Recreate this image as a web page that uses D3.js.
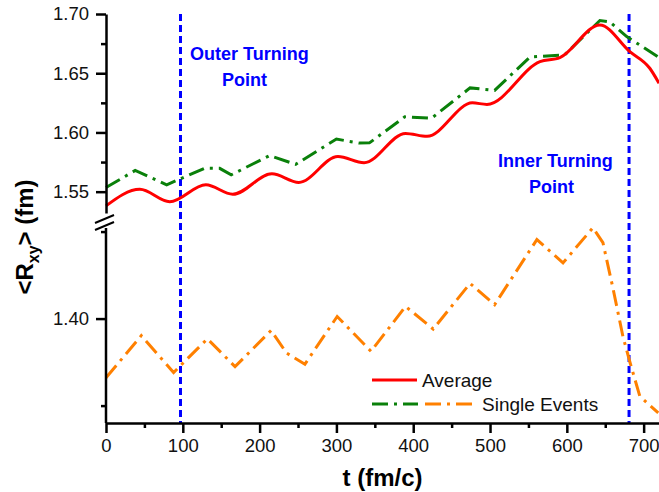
<!DOCTYPE html>
<html>
<head>
<meta charset="utf-8">
<script src="https://cdn.jsdelivr.net/npm/d3@7"></script>
<style>
  body { margin: 0; background: #fff; }
  svg { display: block; font-family: "Liberation Sans", Arial, sans-serif; }
</style>
</head>
<body>
<svg id="chart"></svg>
<script>
// Average <Rxy> (smooth red curve)
const avgTime = [0, 44, 83, 130, 165, 216, 251, 302, 336, 390, 418, 477, 496, 565, 591, 643, 682, 708, 720];
const avgValues = [1.538, 1.552, 1.5415, 1.5558, 1.5478, 1.5651, 1.5578, 1.5797, 1.5744, 1.5992, 1.5967, 1.625, 1.6237, 1.6598, 1.6632, 1.6907, 1.6682, 1.6542, 1.6416];

// green dash-dot curve (upper panel)
const greenTime = [0, 38, 79, 129, 148, 163, 213, 247, 300, 330, 343, 389, 424, 474, 506, 552, 597, 643, 656, 678, 720];
const greenValues = [1.5535, 1.5679, 1.5558, 1.5699, 1.5697, 1.5642, 1.5805, 1.5731, 1.5944, 1.591, 1.5912, 1.6132, 1.6121, 1.6376, 1.6355, 1.6637, 1.6654, 1.6945, 1.6933, 1.6809, 1.6633];

// single events (orange, lower panel)
const singleTime = [0, 46, 88, 132, 168, 215, 235, 259, 301, 345, 390, 426, 474, 506, 561, 595, 634, 647, 660, 673, 682, 695, 719];
const singleValues = [1.383, 1.3951, 1.3845, 1.3942, 1.3862, 1.3966, 1.3901, 1.3869, 1.4006, 1.3906, 1.4035, 1.397, 1.4101, 1.404, 1.4227, 1.416, 1.4261, 1.4218, 1.4088, 1.3949, 1.3876, 1.3777, 1.3729];

const turningPoints = [97, 681];

const xTicks = [0, 100, 200, 300, 400, 500, 600, 700];
const xMinorTicks = [50, 150, 250, 350, 450, 550, 650];
const yUpperTicks = [1.55, 1.60, 1.65, 1.70];
const yUpperMinor = [1.575, 1.625, 1.675];
const yLowerTicks = [1.40];
const yLowerMinor = [1.375, 1.425];

const width = 659, height = 492;
const svg = d3.select("#chart").attr("width", width).attr("height", height);

const x = d3.scaleLinear().domain([0, 720]).range([106, 659]);
const yUp = d3.scaleLinear().domain([1.532, 1.70]).range([213, 14]);
const yLo = d3.scaleLinear().domain([1.37, 1.4266]).range([423, 226]);

const bottom = 423;

// vertical turning point lines
svg.selectAll(".turn")
  .data(turningPoints)
  .enter().append("line")
  .attr("class", "turn")
  .attr("x1", d => x(d)).attr("x2", d => x(d))
  .attr("y1", 14).attr("y2", bottom)
  .attr("stroke", "#0000ff")
  .attr("stroke-width", 3)
  .attr("stroke-dasharray", "7,4");

// curves
const zip = (ts, vs) => ts.map((t, i) => [t, vs[i]]);

svg.append("path")
  .datum(zip(greenTime, greenValues))
  .attr("fill", "none")
  .attr("stroke", "#0a800a")
  .attr("stroke-width", 3)
  .attr("stroke-dasharray", "16,6,3,6")
  .attr("d", d3.line().x(d => x(d[0])).y(d => yUp(d[1])));

svg.append("path")
  .datum(zip(avgTime, avgValues))
  .attr("fill", "none")
  .attr("stroke", "#ff0000")
  .attr("stroke-width", 3)
  .attr("d", d3.line().curve(d3.curveMonotoneX).x(d => x(d[0])).y(d => yUp(d[1])));

svg.append("path")
  .datum(zip(singleTime, singleValues))
  .attr("fill", "none")
  .attr("stroke", "#ff8000")
  .attr("stroke-width", 3)
  .attr("stroke-dasharray", "16,6,3,6")
  .attr("d", d3.line().x(d => x(d[0])).y(d => yLo(d[1])));

// axes
function styleAxis(g) {
  g.selectAll("path, line").attr("stroke", "#000").attr("stroke-width", 2.5);
  g.selectAll("text").attr("font-size", 18.5).attr("fill", "#111")
    .attr("font-family", "'Liberation Sans', Arial, sans-serif");
}

const xAxis = svg.append("g").attr("transform", `translate(0,${bottom})`)
  .call(d3.axisBottom(x).tickValues(xTicks).tickSize(10).tickSizeOuter(0).tickPadding(6).tickFormat(d3.format("d")));
styleAxis(xAxis);
const xMinor = svg.append("g").attr("transform", `translate(0,${bottom})`)
  .call(d3.axisBottom(x).tickValues(xMinorTicks).tickSize(5).tickSizeOuter(0).tickFormat(""));
styleAxis(xMinor);
xMinor.select(".domain").remove();

const yUpAxis = svg.append("g").attr("transform", "translate(106,0)")
  .call(d3.axisLeft(yUp).tickValues(yUpperTicks).tickSize(10).tickSizeOuter(0).tickPadding(7).tickFormat(d3.format(".2f")));
styleAxis(yUpAxis);
const yUpMinor = svg.append("g").attr("transform", "translate(106,0)")
  .call(d3.axisLeft(yUp).tickValues(yUpperMinor).tickSize(5).tickFormat(""));
styleAxis(yUpMinor);
yUpMinor.select(".domain").remove();

const yLoAxis = svg.append("g").attr("transform", "translate(106,0)")
  .call(d3.axisLeft(yLo).tickValues(yLowerTicks).tickSize(10).tickSizeOuter(0).tickPadding(7).tickFormat(d3.format(".2f")));
styleAxis(yLoAxis);
yLoAxis.select(".domain").attr("d", `M0,${yLo.range()[0]}V228`);
const yLoMinor = svg.append("g").attr("transform", "translate(106,0)")
  .call(d3.axisLeft(yLo).tickValues(yLowerMinor).tickSize(5).tickFormat(""));
styleAxis(yLoMinor);
yLoMinor.select(".domain").remove();

// axis break marks
[[223, 215], [230, 222]].forEach(([a, b]) => {
  svg.append("line")
    .attr("x1", 95).attr("y1", a).attr("x2", 114).attr("y2", b)
    .attr("stroke", "#000").attr("stroke-width", 2);
});

// axis titles
svg.append("text")
  .attr("x", (x.range()[0] + x.range()[1]) / 2)
  .attr("y", 486)
  .attr("text-anchor", "middle")
  .attr("font-size", 24).attr("font-weight", "bold")
  .text("t (fm/c)");

const yTitle = svg.append("text")
  .attr("transform", "translate(33,237) rotate(-90)")
  .attr("text-anchor", "middle")
  .attr("font-size", 24).attr("font-weight", "bold");
yTitle.append("tspan").text("<R");
yTitle.append("tspan").attr("font-size", 16).attr("dy", 6).text("xy");
yTitle.append("tspan").attr("dy", -6).text("> (fm)");

// annotations
const note = (lines, x0, y0) => lines.forEach((s, i) => {
  svg.append("text")
    .attr("x", x0[i]).attr("y", y0 + i * 26)
    .attr("fill", "#0000ff")
    .attr("font-size", 18).attr("font-weight", "bold")
    .text(s);
});
note(["Outer Turning", "Point"], [190, 222], 60);
note(["Inner Turning", "Point"], [498, 529], 167);

// legend
const lg = svg.append("g");
lg.append("line").attr("x1", 372).attr("x2", 417).attr("y1", 380).attr("y2", 380)
  .attr("stroke", "#ff0000").attr("stroke-width", 3);
lg.append("text").attr("x", 422).attr("y", 387).attr("font-size", 19).attr("fill", "#111").text("Average");
lg.append("line").attr("x1", 372).attr("x2", 418).attr("y1", 404).attr("y2", 404)
  .attr("stroke", "#0a800a").attr("stroke-width", 3).attr("stroke-dasharray", "16,6,3,6");
lg.append("line").attr("x1", 425).attr("x2", 474).attr("y1", 404).attr("y2", 404)
  .attr("stroke", "#ff8000").attr("stroke-width", 3).attr("stroke-dasharray", "16,6,3,6");
lg.append("text").attr("x", 482).attr("y", 411).attr("font-size", 19).attr("fill", "#111").text("Single Events");
</script>
</body>
</html>
